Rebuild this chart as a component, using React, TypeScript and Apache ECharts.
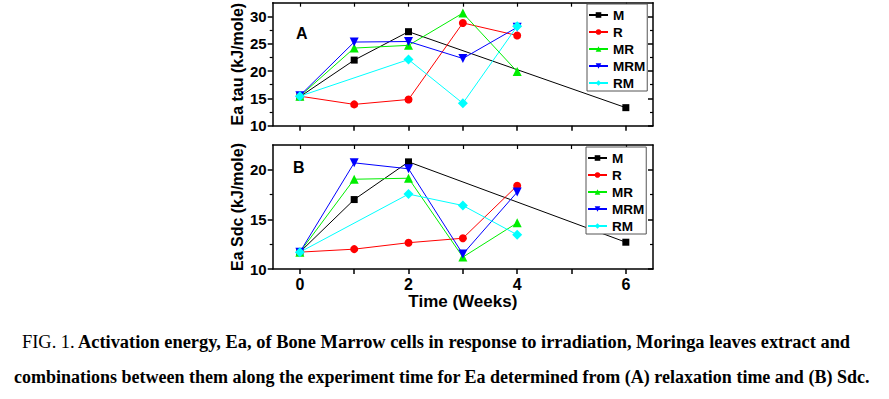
import React, { useEffect, useRef } from "react";
import * as echarts from "echarts";

const seriesNames = ["M", "R", "MR", "MRM", "RM"];
const weeksFull = [0, 1, 2, 3, 4];
const weeksM = [0, 1, 2, 6];
const weeksRM = [0, 2, 3, 4];

// Panel A: Ea from relaxation time (tau)
const tauM = [15.3, 22.0, 27.2, 13.3];
const tauR = [15.4, 13.9, 14.8, 28.8, 26.5];
const tauMR = [15.4, 24.2, 24.7, 30.6, 19.9];
const tauMRM = [15.5, 25.3, 25.4, 22.3, 28.0];
const tauRM = [15.4, 22.1, 14.1, 28.2];

// Panel B: Ea from Sdc
const sdcM = [11.7, 17.0, 20.8, 12.7];
const sdcR = [11.7, 12.0, 12.65, 13.1, 18.4];
const sdcMR = [11.7, 19.05, 19.15, 11.2, 14.65];
const sdcMRM = [11.7, 20.7, 20.1, 11.5, 17.75];
const sdcRM = [11.7, 17.55, 16.4, 13.45];

const xTicks = [0, 1, 2, 3, 4, 5, 6];
const xLabels = [0, 2, 4, 6];
const tauTicks = [10, 15, 20, 25, 30];
const sdcTicks = [10, 15, 20];

const colors = ["#000000", "#ff0000", "#00ee00", "#0000ff", "#00ffff"];
const symbols = ["rect", "circle", "triangle", "path://M0,0L10,0L5,9Z", "diamond"];
const symbolSizes = [7, 8, 9, 9, 10];

const caption1a = "FIG. 1.";
const caption1b = "Activation energy, Ea, of Bone Marrow cells in response to irradiation, Moringa leaves extract and";
const caption2 = "combinations between them along the experiment time for Ea determined from (A) relaxation time and (B) Sdc.";

const SANS = "'Liberation Sans', Arial, sans-serif";
const SERIF = "'Liberation Serif', 'Times New Roman', serif";

function pair(xs: number[], ys: number[]) {
  return xs.map((x, i) => [x, ys[i]]);
}

export default function App() {
  const ref = useRef<HTMLDivElement>(null);
  useEffect(() => {
    if (!ref.current) return;
    const chart = echarts.init(ref.current, undefined, { renderer: "svg" });
    const grids = [
      { left: 272.7, top: 2.7, width: 380.3, height: 123 },
      { left: 272.7, top: 145, width: 380.3, height: 124 },
    ];
    const axisLine = { show: true, onZero: false, lineStyle: { color: "#000", width: 1.5 } };
    const xAxes: any[] = [];
    const yAxes: any[] = [];
    [0, 1].forEach((g) => {
      xAxes.push({
        type: "value", gridIndex: g, position: "bottom", min: -0.5, max: 6.5,
        axisLine,
        axisTick: { show: true, inside: false, length: 5, customValues: xTicks, lineStyle: { color: "#000", width: 1.5 } },
        axisLabel: g === 1
          ? { show: true, customValues: xLabels, color: "#000", fontWeight: "bold", fontSize: 16, fontFamily: SANS, margin: 7 }
          : { show: false },
        splitLine: { show: false },
        name: g === 1 ? "Time (Weeks)" : "",
        nameLocation: "middle",
        nameGap: 24,
        nameTextStyle: { color: "#000", fontWeight: "bold", fontSize: 17, fontFamily: SANS },
      });
      xAxes.push({
        type: "value", gridIndex: g, position: "top", min: -0.5, max: 6.5,
        axisLine,
        axisTick: { show: true, inside: true, length: 4, customValues: xTicks, lineStyle: { color: "#000", width: 1.2 } },
        axisLabel: { show: false },
        splitLine: { show: false },
      });
      const ticks = g === 0 ? tauTicks : sdcTicks;
      const max = g === 0 ? 32.5 : 22.5;
      yAxes.push({
        type: "value", gridIndex: g, position: "left", min: 10, max, interval: 5,
        axisLine,
        axisTick: { show: true, inside: false, length: 5, customValues: ticks, lineStyle: { color: "#000", width: 1.5 } },
        minorTick: { show: true, splitNumber: 2, length: 3, lineStyle: { color: "#000", width: 1.2 } },
        axisLabel: { show: true, customValues: ticks, color: "#000", fontWeight: "bold", fontSize: 15, fontFamily: SANS, margin: 6 },
        splitLine: { show: false },
        name: g === 0 ? "Ea tau (kJ/mole)" : "Ea Sdc (kJ/mole)",
        nameLocation: "middle",
        nameGap: 27,
        nameTextStyle: { color: "#000", fontWeight: "bold", fontSize: 16, fontFamily: SANS },
      });
      yAxes.push({
        type: "value", gridIndex: g, position: "right", min: 10, max, interval: 5,
        axisLine,
        axisTick: { show: true, inside: true, length: 5, customValues: ticks, lineStyle: { color: "#000", width: 1.5 } },
        minorTick: { show: true, splitNumber: 2, length: 3, lineStyle: { color: "#000", width: 1.2 } },
        axisLabel: { show: false },
        splitLine: { show: false },
      });
    });

    const tauData = [pair(weeksM, tauM), pair(weeksFull, tauR), pair(weeksFull, tauMR), pair(weeksFull, tauMRM), pair(weeksRM, tauRM)];
    const sdcData = [pair(weeksM, sdcM), pair(weeksFull, sdcR), pair(weeksFull, sdcMR), pair(weeksFull, sdcMRM), pair(weeksRM, sdcRM)];

    const series: any[] = [];
    [tauData, sdcData].forEach((panel, g) => {
      panel.forEach((d, i) => {
        series.push({
          type: "line",
          name: seriesNames[i],
          xAxisIndex: g * 2,
          yAxisIndex: g * 2,
          data: d,
          symbol: symbols[i],
          symbolSize: symbolSizes[i],
          showAllSymbol: true,
          lineStyle: { color: colors[i], width: 1 },
          itemStyle: { color: colors[i] },
          emphasis: { disabled: true },
        });
      });
    });

    const legendBase = {
      orient: "vertical",
      data: seriesNames,
      selectedMode: false,
      itemWidth: 19,
      itemHeight: 7,
      itemGap: 3,
      padding: [4, 2, 1, 1],
      borderColor: "#555",
      borderWidth: 1,
      backgroundColor: "#fff",
      textStyle: { color: "#000", fontWeight: "bold", fontSize: 13.5, fontFamily: SANS },
    };

    chart.setOption({
      animation: false,
      grid: grids,
      xAxis: xAxes,
      yAxis: yAxes,
      series,
      legend: [
        { ...legendBase, left: 587, top: 4 },
        { ...legendBase, left: 586, top: 147 },
      ],
      graphic: [
        { type: "text", left: 296, top: 25, style: { text: "A", fontSize: 16, fontWeight: "bold", fontFamily: SANS, fill: "#000" } },
        { type: "text", left: 293, top: 159, style: { text: "B", fontSize: 16, fontWeight: "bold", fontFamily: SANS, fill: "#000" } },
        {
          type: "text", left: 22, top: 333,
          style: {
            text: "{n|" + caption1a + "} {b|" + caption1b + "}",
            fill: "#000",
            rich: {
              n: { fontSize: 18.4, fontFamily: SERIF, fill: "#000" },
              b: { fontSize: 18.4, fontFamily: SERIF, fontWeight: "bold", fill: "#000" },
            },
          },
        },
        {
          type: "text", left: 14, top: 368,
          style: { text: caption2, fontSize: 18, fontFamily: SERIF, fontWeight: "bold", fill: "#000" },
        },
      ],
    });
    return () => chart.dispose();
  }, []);
  return <div ref={ref} style={{ position: "fixed", left: 0, top: 0, width: 889, height: 399, background: "#fff" }} />;
}
